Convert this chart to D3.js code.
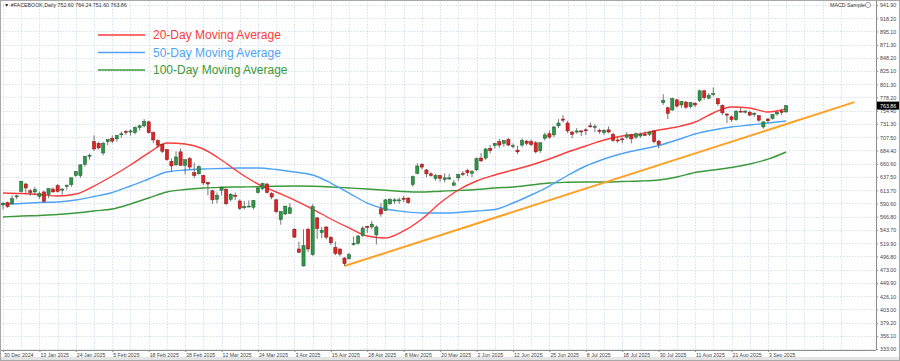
<!DOCTYPE html>
<html>
<head>
<meta charset="utf-8">
<script src="https://cdn.jsdelivr.net/npm/d3@7"></script>
<style>
  body { margin: 0; background: #fff; }
  svg { display: block; font-family: "Liberation Sans", Arial, sans-serif; }
</style>
</head>
<body>
<div id="chart"></div>
<script>
// trading calendar (NYSE closed days)
const firstDay = "2024-12-30", lastDay = "2025-09-09";
const holidays = ["2025-01-01","2025-01-09","2025-01-20","2025-02-17","2025-04-18","2025-05-26","2025-06-19","2025-07-04","2025-09-01"];

const dateLabels = ["30 Dec 2024","13 Jan 2025","24 Jan 2025","5 Feb 2025","18 Feb 2025","28 Feb 2025","12 Mar 2025","24 Mar 2025","3 Apr 2025","15 Apr 2025","28 Apr 2025","8 May 2025","20 May 2025","2 Jun 2025","12 Jun 2025","25 Jun 2025","8 Jul 2025","18 Jul 2025","30 Jul 2025","11 Aug 2025","21 Aug 2025","3 Sep 2025"];

const priceTicks = [941.90,918.20,895.10,871.30,848.20,825.10,801.30,778.20,754.40,731.30,707.50,684.40,660.60,637.50,613.70,590.60,566.80,543.70,519.90,496.80,473.00,449.90,426.10,403.00,379.20,356.10,333.00];

// daily OHLC, one value per trading day
const opens = [588,592,590,603,612,625,613,611,603,611,
  607,616,622,615,621,624,640,640,660,676,
  700,697,680,700,706,705,713,718,717,716,
  725,728,735,716,702,695,686,665,659,682,
  658,670,645,643,640,628,613,598,614,616,
  598,605,595,583,586,584,610,617,625,608,
  597,562,572,573,545,510,480,545,500,565,
  539,549,531,513,510,494,493,518,520,534,
  550,549,535,581,578,590,595,597,600,600,
  624,644,660,650,643,635,640,633,634,623,
  636,644,649,644,650,671,671,688,693,700,
  697,704,692,685,694,701,700,698,684,706,
  714,712,728,740,733,717,717,719,721,728,
  727,720,716,721,713,703,705,708,712,708,
  710,713,713,719,701,769,760,756,774,765,
  770,762,768,773,790,777,784,776,764,749,
  744,739,754,753,752,749,746,726,740,741,
  749,754,752.60];
const highs = [593,594,605,606,630,627,616,620,612,613,
  617,619,625,618,624,636,648,660,675,679,
  711,700,700,705,711,712,718,721,722,727,
  730,740,737,718,704,696,687,670,683,688,
  669,673,663,658,641,629,615,610,620,617,
  609,610,598,595,596,597,620,627,627,611,
  599,577,586,591,547,523,545,548,589,567,
  549,550,532,523,511,496,503,532,535,550,
  551,560,552,591,598,600,600,601,604,602,
  640,662,662,651,646,643,641,644,643,632,
  643,648,652,650,672,680,689,694,698,705,
  703,707,697,693,706,703,704,701,699,716,
  720,728,740,747,737,719,724,720,724,734,
  731,723,722,727,716,708,708,717,714,716,
  716,718,719,720,703,784,762,778,776,772,
  772,770,770,792,792,786,796,776,766,750,
  746,756,760,756,755,752,747,736,742,749,
  755,758,764.24];
const lows = [580,583,589,598,610,608,604,605,599,592,
  600,610,610,606,615,620,638,636,656,668,
  684,686,676,694,697,700,707,712,711,713,
  720,725,714,697,689,680,666,647,657,657,
  642,651,636,642,623,605,590,591,605,588,
  594,597,579,580,584,580,608,614,608,598,
  574,553,570,572,530,504,479,505,498,528,
  529,527,517,499,497,480,491,516,518,531,
  538,545,518,567,577,588,590,590,593,590,
  620,642,651,637,638,631,629,628,632,621,
  630,639,639,637,648,664,668,679,688,689,
  691,692,688,678,690,693,692,679,680,702,
  705,708,724,734,715,706,714,710,712,725,
  717,714,712,715,700,698,697,705,697,705,
  707,710,710,697,688,765,740,755,760,760,
  758,759,761,770,774,775,780,763,747,733,
  735,737,752,750,745,744,735,723,733,739,
  746,747,751.60];
const closes = [591,585,599,604,630,618,610,615,608,594,
  617,611,612,616,623,636,647,659,674,676,
  687,689,697,704,701,711,714,717,719,725,
  728,736,716,703,694,683,668,657,673,658,
  668,655,640,656,627,625,597,605,619,590,
  607,604,582,585,586,596,618,626,610,602,
  576,576,586,583,531,504,516,510,585,546,
  543,531,521,502,501,484,500,520,533,547,
  549,554,549,572,597,598,597,597,598,592,
  638,657,655,643,640,640,635,636,636,627,
  642,643,645,647,670,666,687,684,697,694,
  702,694,693,682,702,697,695,682,698,712,
  708,726,733,738,719,713,719,718,720,727,
  727,718,720,717,702,702,704,712,705,714,
  713,712,717,700,695,773,750,776,763,771,
  761,769,765,790,778,782,785,767,751,747,
  739,754,753,754,747,750,738,735,737,748,
  752,752,763.86];

// moving averages read every 4th bar
const maIndex = [0,4,8,12,16,20,24,28,32,36,40,44,48,52,56,60,64,68,72,76,80,84,88,92,96,100,104,108,112,116,120,124,128,132,136,140,144,148,152,156,160,164,168,172];
const ma20 = [609.1,608.2,606.5,603.8,607.4,621.5,639.2,658.7,680.0,697.6,695.9,687.0,667.5,644.5,625.0,610.9,596.7,580.8,563.1,547.2,533.0,529.5,541.9,563.1,591.4,614.4,630.4,641.0,649.8,658.7,669.3,681.7,692.3,702.9,710.0,713.6,720.6,726.0,734.8,750.7,761.4,759.6,752.5,757.8];
const ma50 = [589.6,590.5,592.3,593.2,596.7,602.9,610.0,621.5,633.9,646.3,649.8,651.6,652.5,653.4,653.4,650.7,646.3,641.0,626.8,609.1,591.4,580.8,576.4,573.7,573.7,574.6,577.3,579.9,591.4,605.6,621.5,640.1,656.9,669.3,679.0,686.1,693.2,702.9,713.6,720.6,726.0,729.5,733.0,736.6];
const ma100 = [566.7,568.4,569.3,571.1,573.7,577.3,580.8,589.7,600.3,610.9,615.3,618.0,619.2,619.8,620.3,621.0,621.5,621.0,619.8,618.0,616.2,614.1,611.8,610.9,612.3,613.6,615.3,618.0,619.8,623.3,626.8,628.1,628.6,628.6,629.5,630.4,632.1,637.5,645.4,649.8,654.3,660.5,669.0,681.7];

// support trendline (bar index, price)
const trendIdx = [75, 187];
const trendVal = [479.8, 770];

const legendItems = [
  {name: "20-Day Moving Average", color: "#ff3b3b", values: ma20},
  {name: "50-Day Moving Average", color: "#4fa3f7", values: ma50},
  {name: "100-Day Moving Average", color: "#3a9a3a", values: ma100}
];

const width = 900, height = 361;
const plotRight = 876, plotBottom = 350;

const parseIso = d3.timeParse("%Y-%m-%d");
const parseLabel = d3.timeParse("%d %b %Y");
const fmtIso = d3.timeFormat("%Y-%m-%d");

const days = d3.timeDay.range(parseIso(firstDay), d3.timeDay.offset(parseIso(lastDay), 1))
  .filter(d => d.getDay() !== 0 && d.getDay() !== 6 && !holidays.includes(fmtIso(d)));

const labelIdx = dateLabels.map(l => {
  const t = +parseLabel(l);
  return days.findIndex(d => +d === t);
});

const candles = days.map((d, i) => ({i: i, o: opens[i], h: highs[i], l: lows[i], c: closes[i]}));

const x = d3.scaleLinear().domain([0, 188]).range([3, 859]);
const y = d3.scaleLinear().domain([333, 941.9]).range([349, 5]);

const svg = d3.select("#chart").append("svg")
  .attr("width", width)
  .attr("height", height);

svg.append("rect").attr("width", width).attr("height", height).attr("fill", "#fff");

// grid
const grid = svg.append("g").attr("stroke", "#cdd8ea").attr("stroke-width", 0.8).attr("stroke-dasharray", "1.5,1.5");
grid.selectAll(".hg").data(priceTicks).join("line")
  .attr("x1", 0).attr("x2", plotRight)
  .attr("y1", d => Math.round(y(d)) + 0.5).attr("y2", d => Math.round(y(d)) + 0.5);
grid.selectAll(".vg").data(d3.range(0, 188, 4)).join("line")
  .attr("x1", d => Math.round(x(d)) + 0.5).attr("x2", d => Math.round(x(d)) + 0.5)
  .attr("y1", 0).attr("y2", plotBottom);

// moving averages
const maLine = d3.line()
  .x((d, k) => x(maIndex[k]))
  .y(d => y(d))
  .curve(d3.curveMonotoneX);

legendItems.slice().reverse().forEach(s => {
  svg.append("path")
    .datum(s.values)
    .attr("fill", "none")
    .attr("stroke", s.color)
    .attr("stroke-width", 1.4)
    .attr("d", maLine);
});

// trendline
svg.append("path")
  .datum(trendIdx.map((d, k) => [d, trendVal[k]]))
  .attr("fill", "none")
  .attr("stroke", "#ffa126")
  .attr("stroke-width", 2)
  .attr("d", d3.line().x(d => x(d[0])).y(d => y(d[1])));

// candles
const cg = svg.append("g");
cg.selectAll(".wick").data(candles).join("line")
  .attr("x1", d => x(d.i)).attr("x2", d => x(d.i))
  .attr("y1", d => y(d.h)).attr("y2", d => y(d.l))
  .attr("stroke", "#555").attr("stroke-width", 0.8);
cg.selectAll(".body").data(candles).join("rect")
  .attr("x", d => x(d.i) - 1.6)
  .attr("width", 3.2)
  .attr("y", d => y(Math.max(d.o, d.c)))
  .attr("height", d => Math.max(1, Math.abs(y(d.o) - y(d.c))))
  .attr("fill", d => d.c >= d.o ? "#2f9447" : "#d92525")
  .attr("stroke", d => d.c >= d.o ? "#1d5e2c" : "#8a1515")
  .attr("stroke-width", 0.5);

// frame lines
svg.append("line").attr("x1", plotRight + 0.5).attr("x2", plotRight + 0.5).attr("y1", 0).attr("y2", plotBottom)
  .attr("stroke", "#8c8c8c");
svg.append("line").attr("x1", 0).attr("x2", plotRight).attr("y1", plotBottom + 0.5).attr("y2", plotBottom + 0.5)
  .attr("stroke", "#8c8c8c");

// right price axis
const yAxis = svg.append("g")
  .attr("transform", `translate(${plotRight},0)`)
  .call(d3.axisRight(y).tickValues(priceTicks).tickSize(2).tickPadding(2).tickFormat(d3.format(".2f")));
yAxis.select(".domain").remove();
yAxis.selectAll("line").attr("stroke", "#8c8c8c");
yAxis.selectAll("text").attr("font-size", "5.3px").attr("fill", "#444").attr("font-family", "Liberation Sans, Arial");

// last price marker
const last = candles[candles.length - 1];
svg.append("rect").attr("x", plotRight + 1).attr("y", y(last.c) - 4).attr("width", 22).attr("height", 8).attr("fill", "#000");
svg.append("text").attr("x", plotRight + 4).attr("y", y(last.c) + 2)
  .attr("font-size", "5.3px").attr("fill", "#fff").text(d3.format(".2f")(last.c));

// bottom date axis
const xAxis = svg.append("g")
  .attr("transform", `translate(0,${plotBottom})`)
  .call(d3.axisBottom(x).tickValues(labelIdx).tickSize(2).tickPadding(1).tickFormat((d, k) => dateLabels[k]));
xAxis.select(".domain").remove();
xAxis.selectAll("line").attr("stroke", "#8c8c8c");
xAxis.selectAll("text").attr("text-anchor", "start").attr("dx", "0.5")
  .attr("font-size", "5.2px").attr("fill", "#444").attr("font-family", "Liberation Sans, Arial");

// bottom strip and border
svg.append("rect").attr("x", 0).attr("y", 357).attr("width", width).attr("height", 4).attr("fill", "#e4e4e4");
svg.append("rect").attr("x", 0.5).attr("y", 0.5).attr("width", width - 1).attr("height", height - 1)
  .attr("fill", "none").attr("stroke", "#a8a8a8");

// header texts
svg.append("text").attr("x", 4).attr("y", 7).attr("font-size", "5.3px").attr("fill", "#333")
  .text("\u25BC #FACEBOOK,Daily  " + [last.o, last.h, last.l, last.c].map(d3.format(".2f")).join(" "));
svg.append("text").attr("x", 830).attr("y", 7).attr("font-size", "5.3px").attr("fill", "#333").text("MACD Sample");
svg.append("circle").attr("cx", 868).attr("cy", 5).attr("r", 2.6).attr("fill", "none").attr("stroke", "#666").attr("stroke-width", 0.6);

// legend
const legend = svg.append("g");
legendItems.forEach((s, k) => {
  const ly = 35 + k * 17.5;
  legend.append("line").attr("x1", 98).attr("x2", 145).attr("y1", ly).attr("y2", ly)
    .attr("stroke", s.color).attr("stroke-width", 1.5);
  legend.append("text").attr("x", 153).attr("y", ly + 4)
    .attr("font-size", "12px").attr("fill", s.color).text(s.name);
});
</script>
</body>
</html>
